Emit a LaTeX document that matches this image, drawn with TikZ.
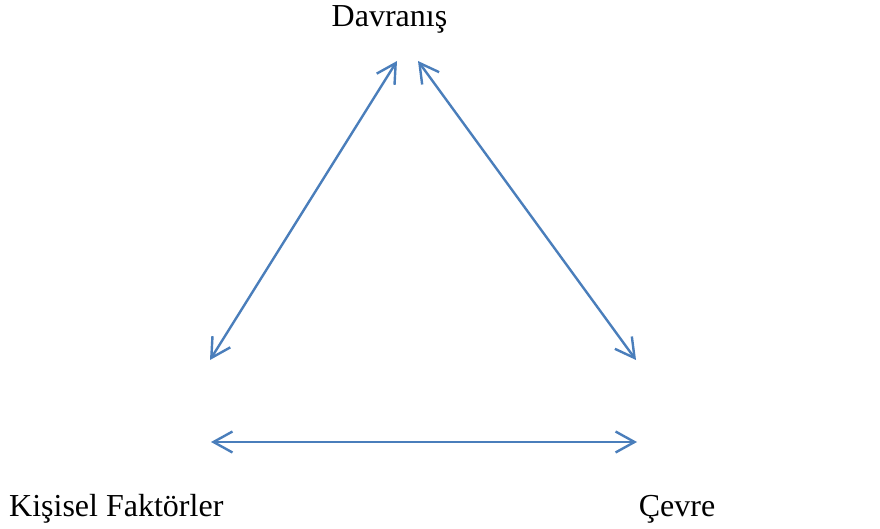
\documentclass[tikz,border=0pt]{standalone}
\usepackage{fontspec}
\setmainfont{Liberation Serif}
\usetikzlibrary{arrows.meta}
\definecolor{arrowblue}{HTML}{4A7EBB}
\tikzset{
  lbl/.style={inner sep=0pt, font=\fontsize{32}{37}\selectfont},
  barbtip/.tip={Straight Barb[length=19pt,width=21pt,line width=2.4pt]},
  link/.style={draw=arrowblue, line width=2.4pt, {barbtip}-{barbtip}}
}
\begin{document}
\begin{tikzpicture}[x=1pt,y=-1pt]
\useasboundingbox (0,0) rectangle (880,529);
\node[lbl, anchor=base] (dav) at (389.5,27) {Davranış};
\node[lbl, anchor=base west] (kis) at (9,516) {Kişisel Faktörler};
\node[lbl, anchor=base] (cev) at (677,516) {Çevre};
\coordinate (dL) at (397,61);
\coordinate (dR) at (418,61);
\coordinate (kU) at (210,360);
\coordinate (cU) at (636,360);
\coordinate (kH) at (211,442);
\coordinate (cH) at (637,442);
\draw[link] (dL) -- (kU);
\draw[link] (dR) -- (cU);
\draw[link] (kH) -- (cH);
\end{tikzpicture}
\end{document}
